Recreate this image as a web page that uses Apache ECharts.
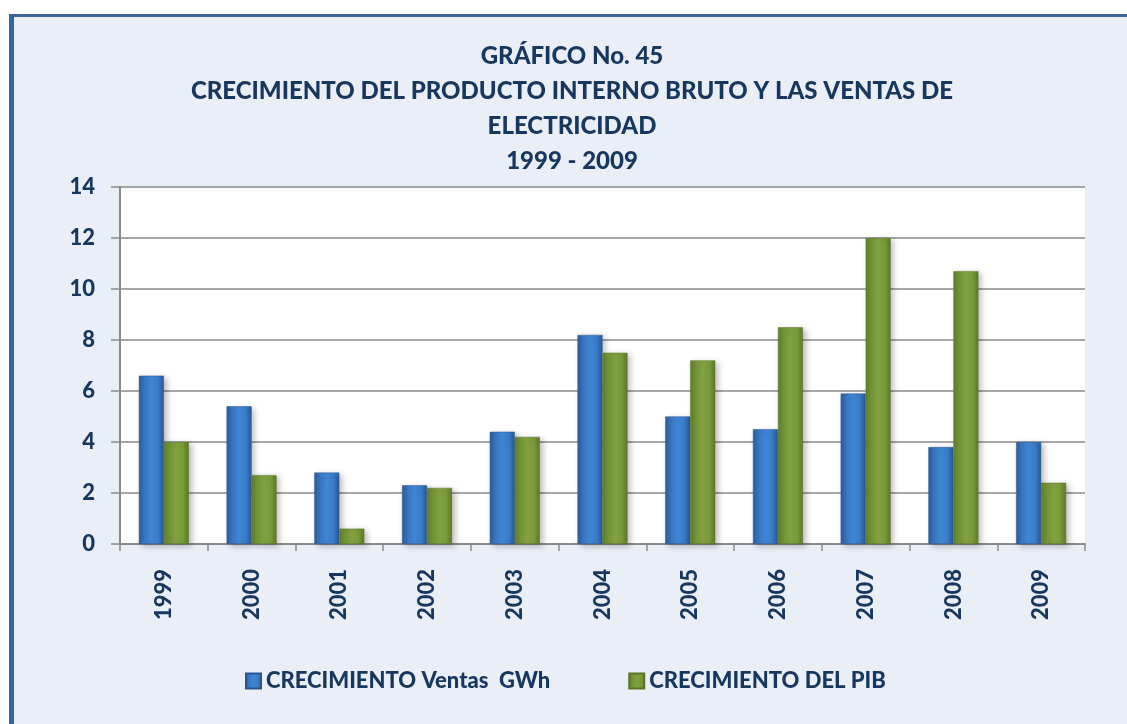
<!DOCTYPE html>
<html>
<head>
<meta charset="utf-8">
<script src="https://cdn.jsdelivr.net/npm/echarts@6/dist/echarts.min.js"></script>
<style>
  html, body { margin: 0; padding: 0; background: #ffffff; }
  #frame { position: absolute; left: 9px; top: 14px; width: 1113px; height: 710px;
           background: #e9eef7; border-left: 5px solid #3b6496; border-top: 3px solid #3b6496; }
  #chart { position: absolute; left: 0; top: 0; width: 1127px; height: 724px; }
</style>
</head>
<body>
<div id="frame"></div>
<div id="chart"></div>
<script>
const titleLines = ['GRÁFICO No. 45', 'CRECIMIENTO DEL PRODUCTO INTERNO BRUTO Y LAS VENTAS DE', 'ELECTRICIDAD', '1999 - 2009'];
const categories = ['1999', '2000', '2001', '2002', '2003', '2004', '2005', '2006', '2007', '2008', '2009'];
const seriesNames = ['CRECIMIENTO Ventas  GWh', 'CRECIMIENTO DEL PIB'];
const ventas = [6.6, 5.4, 2.8, 2.3, 4.4, 8.2, 5.0, 4.5, 5.9, 3.8, 4.0];
const pib = [4.0, 2.7, 0.6, 2.2, 4.2, 7.5, 7.2, 8.5, 12.0, 10.7, 2.4];
const yMin = 0, yMax = 14, yStep = 2;

const textColor = '#17375e';
const font = 'Lato';
const weight = 900;

function grad(stops) {
  return new echarts.graphic.LinearGradient(0, 0, 1, 0, stops.map((c, i) => ({ offset: i / (stops.length - 1), color: c })));
}
const blueFill = grad(['#2b5d9c', '#3878c4', '#3f86d4', '#3a7dca', '#2a5994']);
const greenFill = grad(['#617f2a', '#759537', '#80a240', '#7a9b3b', '#5d7a27']);

const chart = echarts.init(document.getElementById('chart'), null, { renderer: 'canvas' });
chart.setOption({
  backgroundColor: 'transparent',
  animation: false,
  graphic: [{
    type: 'text', x: 572, y: 39,
    style: {
      text: titleLines.join('\n'), align: 'center', verticalAlign: 'top',
      fill: textColor, font: weight + ' 24px Lato', lineHeight: 35
    }
  }],
  grid: { left: 120, right: 42, top: 187, bottom: 180, show: true, backgroundColor: '#ffffff', borderWidth: 0 },
  legend: {
    left: 245, top: 670, padding: 0, itemWidth: 15, itemHeight: 15, itemGap: 78, icon: 'rect',
    textStyle: { color: textColor, fontFamily: font, fontWeight: weight, fontSize: 22 },
    data: seriesNames
  },
  xAxis: {
    type: 'category', data: categories,
    axisLine: { show: true, lineStyle: { color: '#8a8a8a', width: 2 } },
    axisTick: { show: true, length: 7, lineStyle: { color: '#8a8a8a', width: 1.5 } },
    axisLabel: { rotate: 90, margin: 25, color: textColor, fontFamily: font, fontWeight: weight, fontSize: 22 }
  },
  yAxis: {
    type: 'value', min: yMin, max: yMax, interval: yStep,
    axisLine: { show: true, lineStyle: { color: '#8a8a8a', width: 2 } },
    axisTick: { show: true, length: 9, lineStyle: { color: '#8a8a8a', width: 1.5 } },
    splitLine: { show: true, lineStyle: { color: '#8a8a8a', width: 1.5 } },
    axisLabel: { margin: 25, color: textColor, fontFamily: font, fontWeight: weight, fontSize: 22 }
  },
  series: [
    {
      name: seriesNames[0], type: 'bar', data: ventas, barWidth: 25, barGap: '0%',
      itemStyle: { color: blueFill, borderColor: '#2a5590', borderWidth: 0.5,
        shadowBlur: 6, shadowColor: 'rgba(0,0,0,0.25)', shadowOffsetX: 3, shadowOffsetY: 2 }
    },
    {
      name: seriesNames[1], type: 'bar', data: pib, barWidth: 25, barGap: '0%',
      itemStyle: { color: greenFill, borderColor: '#5a7526', borderWidth: 0.5,
        shadowBlur: 6, shadowColor: 'rgba(0,0,0,0.25)', shadowOffsetX: 3, shadowOffsetY: 2 }
    }
  ]
});
</script>
</body>
</html>
